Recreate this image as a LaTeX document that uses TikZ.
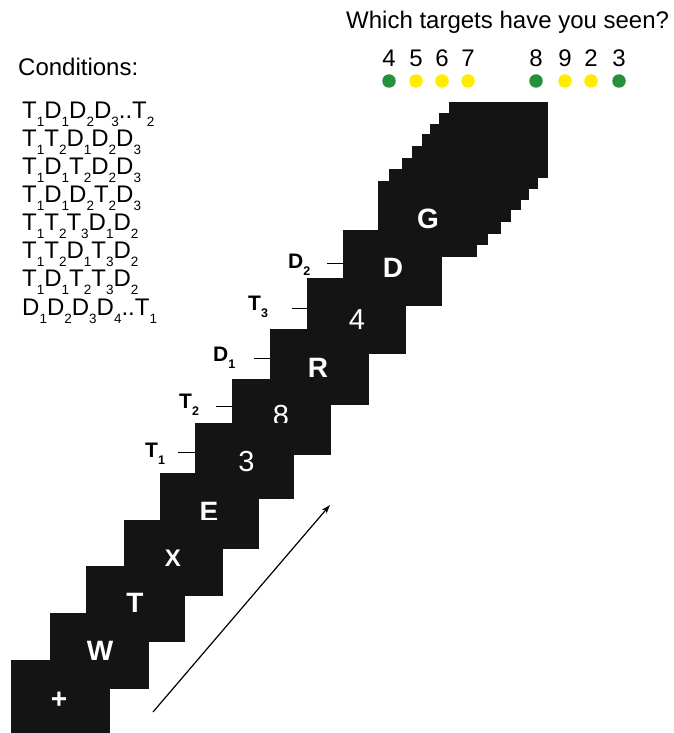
\documentclass[tikz,border=0pt]{standalone}
\usepackage{fontspec}
\setmainfont{Liberation Sans}
\usetikzlibrary{arrows.meta}
\definecolor{sqblack}{HTML}{141414}
\definecolor{dotgreen}{HTML}{26903A}
\definecolor{dotyellow}{HTML}{FFEC00}
\newcommand{\csub}[1]{\raisebox{-8pt}[0pt][0pt]{\fontsize{13.5}{14}\selectfont #1}}
\newcommand{\lsub}[1]{\raisebox{-7pt}[0pt][0pt]{\fontsize{12.5}{13}\selectfont\bfseries #1}}
\begin{document}
\begin{tikzpicture}[x=1pt,y=-1pt,
  sqbox/.style={fill=sqblack, draw=none, minimum width=99pt, minimum height=76pt, anchor=north west, inner sep=0pt, outer sep=0pt},
  letter/.style={text=white, font=\fontsize{28}{30}\selectfont\bfseries, inner sep=0pt},
  digitw/.style={text=white, font=\fontsize{29}{30}\selectfont, inner sep=0pt},
  lab/.style={anchor=base west, inner sep=0pt, font=\fontsize{21}{22}\selectfont\bfseries},
  cond/.style={anchor=base west, inner sep=0pt, font=\fontsize{24}{26}\selectfont},
  txt/.style={anchor=base west, inner sep=0pt, font=\fontsize{24}{26}\selectfont},
  num/.style={anchor=base, inner sep=0pt, font=\fontsize{24}{26}\selectfont},
  dot/.style={circle, draw=none, minimum size=13.5pt, inner sep=0pt},
  tickln/.style={draw=black, line width=0.9pt},
]
\useasboundingbox (0,0) rectangle (674,733);

% stacked squares behind G
\node[sqbox] (s7) at (449,102) {};
\node[sqbox] (s6) at (439,113) {};
\node[sqbox] (s5) at (430,124) {};
\node[sqbox] (s4) at (422,134) {};
\node[sqbox] (s3) at (412,146) {};
\node[sqbox] (s2) at (402,158) {};
\node[sqbox] (s1) at (389,169) {};
% sequence
\node[sqbox] (qG) at (378,181) {};
\node[letter] (lG) at (428,219) {G};
\node[sqbox] (qD) at (343,230) {};
\node[letter] (lD) at (393,268) {D};
\node[sqbox] (q4) at (307,278) {};
\node[digitw] (l4) at (357,320) {4};
\node[sqbox] (qR) at (270,329) {};
\node[letter] (lR) at (318,367.5) {R};
\node[sqbox] (q8) at (232,379) {};
\node[digitw] (l8) at (281,415.5) {8};
\node[sqbox] (q3) at (195,423) {};
\node[digitw] (l3) at (246.5,462) {3};
\node[sqbox] (qE) at (160,473) {};
\node[letter] (lE) at (209,512) {E};
\node[sqbox] (qX) at (124,520) {};
\node[letter, font=\fontsize{24}{26}\selectfont\bfseries] (lX) at (173,558) {X};
\node[sqbox] (qT) at (86,566) {};
\node[letter] (lT) at (135,603) {T};
\node[sqbox] (qW) at (50,613) {};
\node[letter] (lW) at (100,651) {W};
\node[sqbox] (qP) at (11,660) {};
\node[letter] (lP) at (59,700) {+};

% labels and ticks
\node[lab] (t1) at (145,457) {T\lsub{1}};
\node[lab] (t2) at (179,408) {T\lsub{2}};
\node[lab] (d1) at (213,361) {D\lsub{1}};
\node[lab] (t3) at (248,310) {T\lsub{3}};
\node[lab] (d2) at (288,268) {D\lsub{2}};
\coordinate (k1) at (178,452);
\coordinate (k2) at (216,406);
\coordinate (k3) at (254,358);
\coordinate (k4) at (292,308);
\coordinate (k5) at (327,263);
\draw[tickln] (k1) -- (k1 -| q3.west);
\draw[tickln] (k2) -- (k2 -| q8.west);
\draw[tickln] (k3) -- (k3 -| qR.west);
\draw[tickln] (k4) -- (k4 -| q4.west);
\draw[tickln] (k5) -- (k5 -| qD.west);

% arrow
\coordinate (a0) at (153,712);
\coordinate (a1) at (330,505);
\draw[line width=1.2pt, -{Stealth[length=9pt,width=6pt]}] (a0) -- (a1);

% conditions
\node[txt] (ctitle) at (18,76) {Conditions:};
\node[cond] (c1) at (22,118.3) {T\csub{1}D\csub{1}D\csub{2}D\csub{3}..T\csub{2}};
\node[cond] (c2) at (22,146.4) {T\csub{1}T\csub{2}D\csub{1}D\csub{2}D\csub{3}};
\node[cond] (c3) at (22,174.5) {T\csub{1}D\csub{1}T\csub{2}D\csub{2}D\csub{3}};
\node[cond] (c4) at (22,202.6) {T\csub{1}D\csub{1}D\csub{2}T\csub{2}D\csub{3}};
\node[cond] (c5) at (22,230.7) {T\csub{1}T\csub{2}T\csub{3}D\csub{1}D\csub{2}};
\node[cond] (c6) at (22,258.8) {T\csub{1}T\csub{2}D\csub{1}T\csub{3}D\csub{2}};
\node[cond] (c7) at (22,286.9) {T\csub{1}D\csub{1}T\csub{2}T\csub{3}D\csub{2}};
\node[cond] (c8) at (22,315) {D\csub{1}D\csub{2}D\csub{3}D\csub{4}..T\csub{1}};

% question
\node[txt] (q) at (346,29) {Which targets have you seen?};
\node[num] (n1) at (389,67) {4};
\node[num] (n2) at (416,67) {5};
\node[num] (n3) at (442,67) {6};
\node[num] (n4) at (468,67) {7};
\node[num] (n5) at (536,67) {8};
\node[num] (n6) at (565,67) {9};
\node[num] (n7) at (591,67) {2};
\node[num] (n8) at (619,67) {3};
\node[dot, fill=dotgreen] (o1) at (389,81) {};
\node[dot, fill=dotyellow] (o2) at (416,81) {};
\node[dot, fill=dotyellow] (o3) at (442,81) {};
\node[dot, fill=dotyellow] (o4) at (468,81) {};
\node[dot, fill=dotgreen] (o5) at (536,81) {};
\node[dot, fill=dotyellow] (o6) at (565,81) {};
\node[dot, fill=dotyellow] (o7) at (591,81) {};
\node[dot, fill=dotgreen] (o8) at (619,81) {};
\end{tikzpicture}
\end{document}
